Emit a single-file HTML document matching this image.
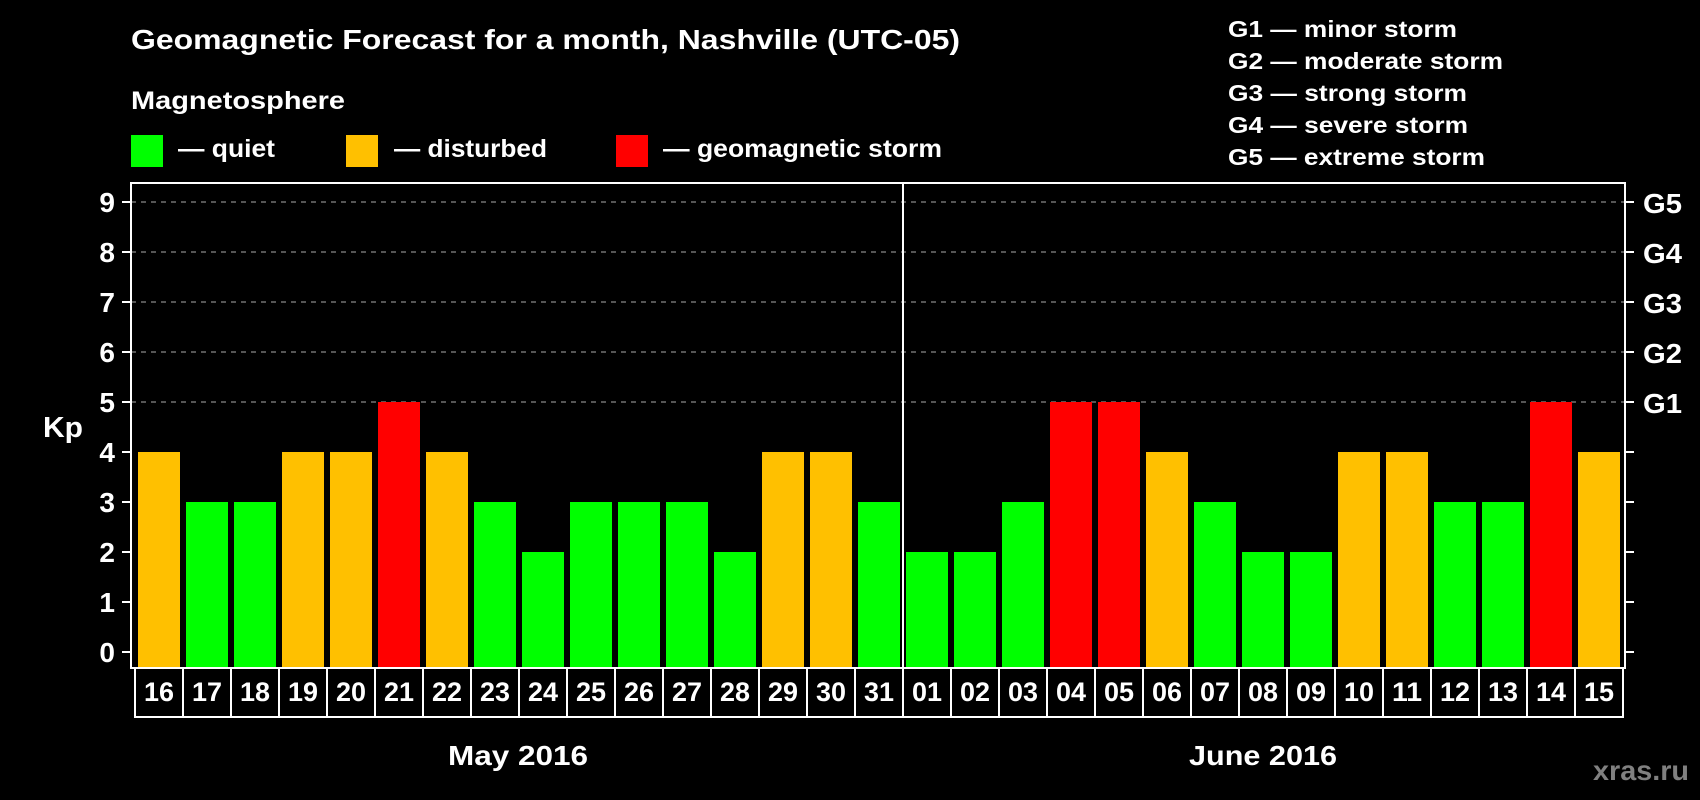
<!DOCTYPE html>
<html><head><meta charset="utf-8"><style>
html,body{margin:0;padding:0;background:#000;width:1700px;height:800px;overflow:hidden}
svg text{font-family:"Liberation Sans",Arial,sans-serif;font-weight:bold;fill:#fff}
</style></head><body>
<svg id="chart" width="1700" height="800" viewBox="0 0 1700 800" xmlns="http://www.w3.org/2000/svg">
<rect width="1700" height="800" fill="#000"/>
<text x="131" y="49" font-size="28" textLength="829" lengthAdjust="spacingAndGlyphs">Geomagnetic Forecast for a month, Nashville (UTC-05)</text>
<text x="131" y="109" font-size="25" textLength="214" lengthAdjust="spacingAndGlyphs">Magnetosphere</text>
<rect x="131" y="135" width="32" height="32" fill="#00ff00"/>
<text x="178" y="157" font-size="25" textLength="97" lengthAdjust="spacingAndGlyphs">— quiet</text>
<rect x="346" y="135" width="32" height="32" fill="#ffc000"/>
<text x="394" y="157" font-size="25" textLength="153" lengthAdjust="spacingAndGlyphs">— disturbed</text>
<rect x="616" y="135" width="32" height="32" fill="#ff0000"/>
<text x="663" y="157" font-size="25" textLength="279" lengthAdjust="spacingAndGlyphs">— geomagnetic storm</text>
<g font-size="23">
<text x="1228" y="37" textLength="229" lengthAdjust="spacingAndGlyphs">G1 — minor storm</text>
<text x="1228" y="69" textLength="275" lengthAdjust="spacingAndGlyphs">G2 — moderate storm</text>
<text x="1228" y="101" textLength="239" lengthAdjust="spacingAndGlyphs">G3 — strong storm</text>
<text x="1228" y="133" textLength="240" lengthAdjust="spacingAndGlyphs">G4 — severe storm</text>
<text x="1228" y="165" textLength="257" lengthAdjust="spacingAndGlyphs">G5 — extreme storm</text>
</g>
<text x="43" y="437" font-size="29" textLength="40" lengthAdjust="spacingAndGlyphs">Kp</text>
<g id="grid"></g>
<g id="bars"></g>
<g id="axes"></g>
<text x="518" y="765" font-size="28" text-anchor="middle" textLength="140" lengthAdjust="spacingAndGlyphs">May 2016</text>
<text x="1263" y="765" font-size="28" text-anchor="middle" textLength="148" lengthAdjust="spacingAndGlyphs">June 2016</text>
<text x="1689" y="780" font-size="28" text-anchor="end" style="fill:#808080" textLength="96" lengthAdjust="spacingAndGlyphs">xras.ru</text>
</svg>
<script>
const days = ["16","17","18","19","20","21","22","23","24","25","26","27","28","29","30","31","01","02","03","04","05","06","07","08","09","10","11","12","13","14","15"];
const kpValues = [4,3,3,4,4,5,4,3,2,3,3,3,2,4,4,3,2,2,3,5,5,4,3,2,2,4,4,3,3,5,4];
const yTicks = [0,1,2,3,4,5,6,7,8,9];
const gLabels = ["G1","G2","G3","G4","G5"];
const gLevels = [5,6,7,8,9];
const monthSplitIndex = 16;

const NS = "http://www.w3.org/2000/svg";
const plotL = 131, plotR = 1625, plotT = 183, plotB = 668;
const slotX0 = 135, slot = 48;
function y(v){ return 652 - 50*v; }
function xSlot(i){ return slotX0 + i*slot; }
function mk(tag, attrs, parent){ const e=document.createElementNS(NS,tag); for(const k in attrs) e.setAttribute(k,attrs[k]); parent.appendChild(e); return e; }
function colorFor(v){ return v>=5 ? "#ff0000" : (v>=4 ? "#ffc000" : "#00ff00"); }

const grid = document.getElementById("grid"), bars = document.getElementById("bars"), axes = document.getElementById("axes");
gLevels.forEach(l=>{
  const g = mk("line",{x1:plotL,x2:plotR,y1:y(l),y2:y(l),stroke:"#888","stroke-width":1.3,"stroke-dasharray":"5,5"},grid);
  
  
});
kpValues.forEach((v,i)=>{
  const r = mk("rect",{x:xSlot(i)+3,y:y(v),width:42,height:plotB-y(v),fill:colorFor(v)},bars);
  
  
});
const frame = mk("rect",{x:plotL,y:plotT,width:plotR-plotL,height:plotB-plotT,fill:"none",stroke:"#fff","stroke-width":2},axes);


yTicks.forEach(t=>{
  const a = mk("line",{x1:122,x2:plotL,y1:y(t),y2:y(t),stroke:"#fff","stroke-width":2},axes);
  
  
  const b = mk("line",{x1:plotR,x2:1634,y1:y(t),y2:y(t),stroke:"#fff","stroke-width":2},axes);
  
  
  const tx = mk("text",{x:115,y:y(t)+10,"font-size":28,"text-anchor":"end"},axes);
  tx.textContent = t;
  
  
});
gLabels.forEach((g,i)=>{
  const tx = mk("text",{x:1643,y:y(gLevels[i])+11,"font-size":28,textLength:39,lengthAdjust:"spacingAndGlyphs"},axes);
  tx.textContent = g;
  
  
});
days.forEach((d,i)=>{
  const r = mk("rect",{x:xSlot(i),y:plotB,width:slot,height:49,fill:"#000",stroke:"#fff","stroke-width":2},axes);
  
  
  const tx = mk("text",{x:xSlot(i)+slot/2,y:701,"font-size":27,"text-anchor":"middle",textLength:30,lengthAdjust:"spacingAndGlyphs"},axes);
  tx.textContent = d;
  
  
});
const sx = xSlot(monthSplitIndex);
const div = mk("line",{x1:sx,x2:sx,y1:plotT,y2:717,stroke:"#fff","stroke-width":2},axes);


</script>
</body></html>
